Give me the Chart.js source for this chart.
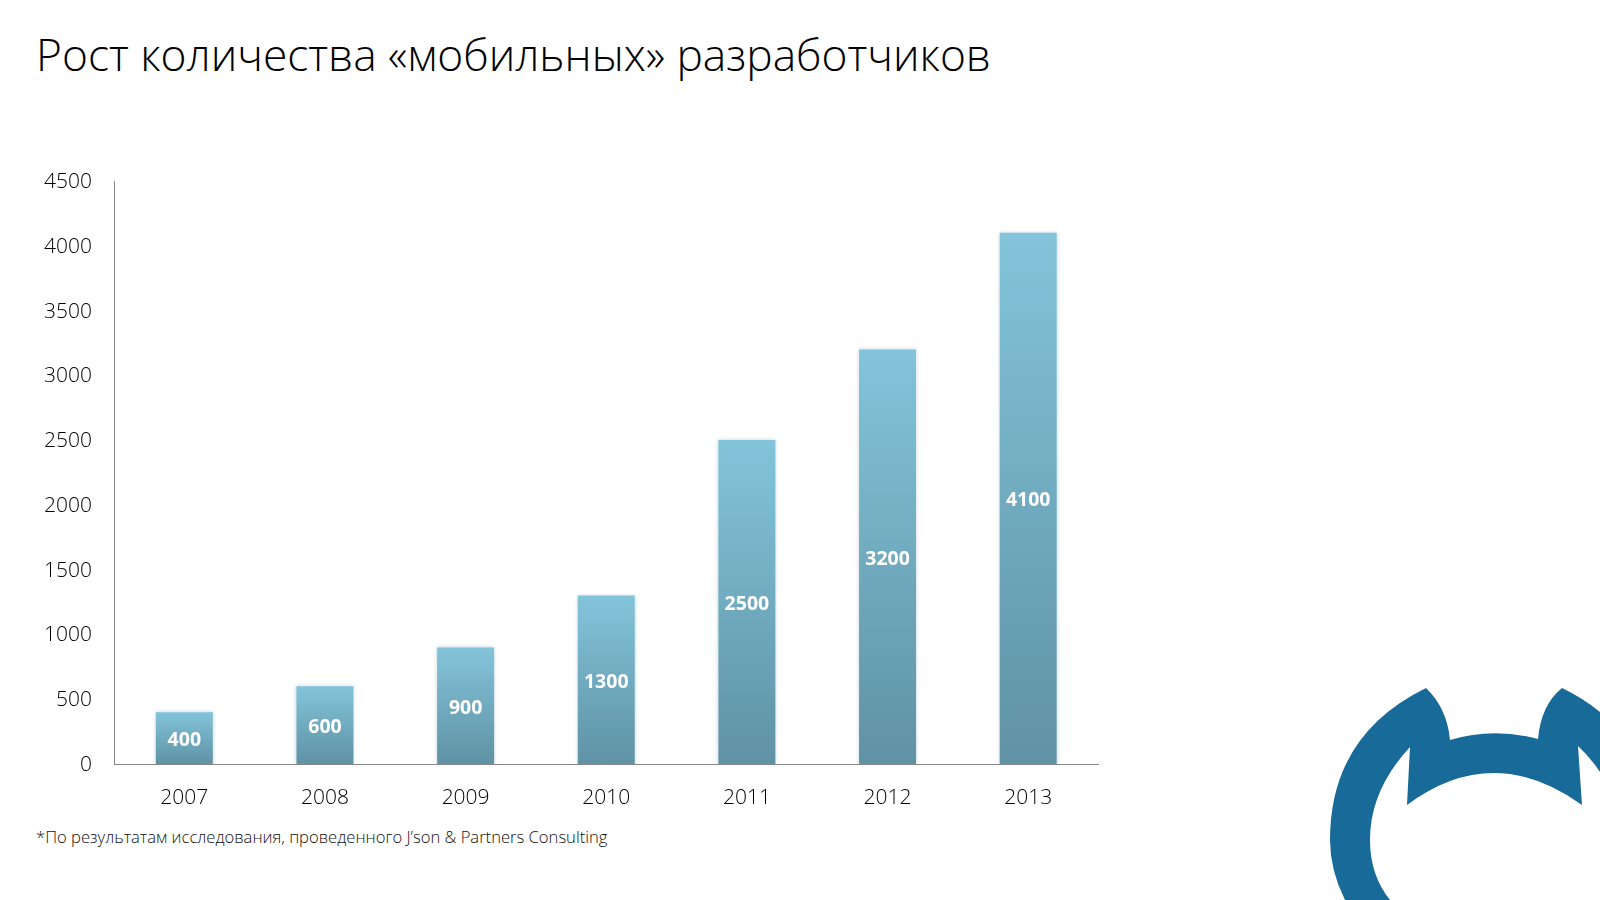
<!DOCTYPE html>
<html lang="ru">
<head>
<meta charset="utf-8">
<title>Рост количества «мобильных» разработчиков</title>
<script src="https://cdn.jsdelivr.net/npm/chart.js@4"></script>
<style>
  html, body { margin: 0; padding: 0; background: #fff; }
  body { position: relative; width: 1600px; height: 900px; overflow: hidden; }
  #grafico { position: absolute; left: 0; top: 0; }
  #titulo { position: absolute; left: 36px; top: 24px; margin: 0; font: 300 44.3px "Open Sans", sans-serif; color: #000; white-space: nowrap; }
  #nota { position: absolute; left: 36px; top: 825px; font: 300 16.6px "Open Sans", sans-serif; color: #111; white-space: nowrap; }
  #logo { position: absolute; left: 0; top: 0; }
</style>
</head>
<body>
<h1 id="titulo">Рост количества «мобильных» разработчиков</h1>
<div id="nota">*По результатам исследования, проведенного J’son &amp; Partners Consulting</div>
<svg id="logo" width="1600" height="900">
  <path fill="#186a98" d="M1426 688 Q1447 708 1450 740 Q1493 727 1538 739 Q1541 705 1562 688 Q1583 698 1600 712 L1600 772 Q1590 757 1578 746 L1582 805 Q1493 741 1407 805 L1410 747 Q1370 790 1370 840 Q1370 875 1390 900 L1345 900 Q1330 870 1330 840 Q1330 735 1426 688 Z"/>
</svg>
<canvas id="grafico" width="1600" height="900"></canvas>
<script>
// dados do gráfico
const anos = ['2007', '2008', '2009', '2010', '2011', '2012', '2013']
const desenvolvedores = [400, 600, 900, 1300, 2500, 3200, 4100]
const marcasY = [0, 500, 1000, 1500, 2000, 2500, 3000, 3500, 4000, 4500]

const fonteBase = '"Open Sans", sans-serif'

// sombra clara em volta das barras
const sombraBarras = {
    id: 'sombraBarras',
    beforeDatasetsDraw(chart) {
        chart.ctx.save()
        chart.ctx.shadowColor = 'rgba(110,150,165,0.4)'
        chart.ctx.shadowBlur = 4
    },
    afterDatasetsDraw(chart) {
        chart.ctx.restore()
    }
}

// rótulo branco no meio de cada barra
const rotulosBarras = {
    id: 'rotulosBarras',
    afterDatasetsDraw(chart) {
        const ctx = chart.ctx
        const barras = chart.getDatasetMeta(0).data
        ctx.save()
        ctx.fillStyle = '#fff'
        ctx.font = '700 19.5px ' + fonteBase
        ctx.textAlign = 'center'
        ctx.textBaseline = 'middle'
        barras.forEach((barra, i) => {
            ctx.fillText(String(desenvolvedores[i]), barra.x, (barra.y + barra.base) / 2 + 2.5)
        })
        ctx.restore()
    }
}

function gradienteBarra(context) {
    const chart = context.chart
    if (!chart.chartArea || context.raw === undefined) return '#74abc0'
    const topo = chart.scales.y.getPixelForValue(context.raw)
    const base = chart.scales.y.getPixelForValue(0)
    const g = chart.ctx.createLinearGradient(0, topo, 0, base)
    g.addColorStop(0, '#83c4da')
    g.addColorStop(1, '#5f92a4')
    return g
}

new Chart(document.getElementById('grafico'), {
    type: 'bar',
    data: {
        labels: anos,
        datasets: [{
            data: desenvolvedores,
            backgroundColor: gradienteBarra,
            categoryPercentage: 1,
            barPercentage: 0.405
        }]
    },
    options: {
        responsive: false,
        animation: false,
        layout: {
            autoPadding: false,
            padding: { left: 0, right: 501.5, top: 181, bottom: 0 }
        },
        plugins: {
            legend: { display: false },
            tooltip: { enabled: false }
        },
        scales: {
            x: {
                grid: { display: false, drawTicks: false },
                border: { color: '#868686', width: 1 },
                ticks: { color: '#000', font: { family: fonteBase, size: 21, weight: '300' }, padding: 21, maxRotation: 0 },
                afterFit(scale) { scale.height = 136 }
            },
            y: {
                min: 0,
                max: 4500,
                afterBuildTicks(scale) { scale.ticks = marcasY.map(v => ({ value: v })) },
                grid: { display: false, drawTicks: false },
                border: { color: '#868686', width: 1 },
                ticks: {
                    color: '#000',
                    font: { family: fonteBase, size: 21, weight: '300' },
                    padding: 22,
                    labelOffset: 1,
                    callback: v => String(v)
                },
                afterFit(scale) { scale.width = 114 }
            }
        }
    },
    plugins: [sombraBarras, rotulosBarras]
})
</script>
</body>
</html>
